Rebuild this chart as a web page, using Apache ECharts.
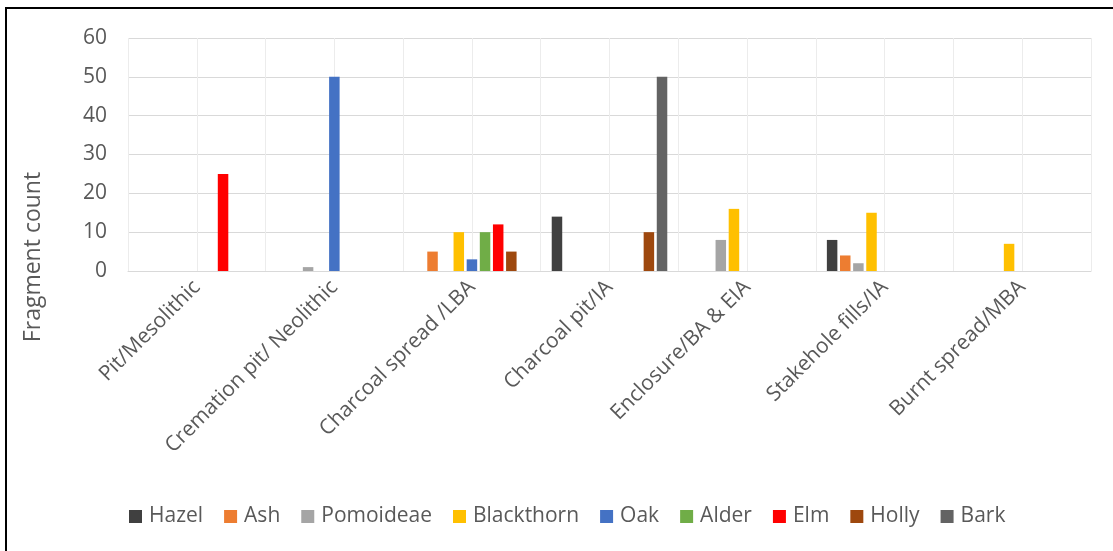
<!DOCTYPE html>
<html>
<head>
<meta charset="utf-8">
<script src="https://cdn.jsdelivr.net/npm/echarts@6/dist/echarts.min.js"></script>
<style>
html,body{margin:0;padding:0;background:#fff;overflow:hidden;}
#chart{width:1113px;height:551px;}
#frame{position:absolute;left:5px;top:7px;width:1300px;height:800px;border-left:2px solid #000;border-top:2px solid #000;pointer-events:none;}
</style>
</head>
<body>
<div id="chart"></div>
<div id="frame"></div>
<script>
var categories = ['Pit/Mesolithic','Cremation pit/ Neolithic','Charcoal spread /LBA','Charcoal pit/IA','Enclosure/BA & EIA','Stakehole fills/IA','Burnt spread/MBA'];
var seriesNames = ['Hazel','Ash','Pomoideae','Blackthorn','Oak','Alder','Elm','Holly','Bark'];
var hazel      = [0, 0, 0, 14, 0, 8, 0];
var ash        = [0, 0, 5, 0, 0, 4, 0];
var pomoideae  = [0, 1, 0, 0, 8, 2, 0];
var blackthorn = [0, 0, 10, 0, 16, 15, 7];
var oak        = [0, 50, 3, 0, 0, 0, 0];
var alder      = [0, 0, 10, 0, 0, 0, 0];
var elm        = [25, 0, 12, 0, 0, 0, 0];
var holly      = [0, 0, 5, 10, 0, 0, 0];
var bark       = [0, 0, 0, 50, 0, 0, 0];
var yTicks = [0, 10, 20, 30, 40, 50, 60];

var colors = ['#404040','#ED7D31','#A5A5A5','#FFC000','#4472C4','#70AD47','#FF0000','#9E480E','#636363'];
var values = [hazel, ash, pomoideae, blackthorn, oak, alder, elm, holly, bark];
var FONT = '"Open Sans", sans-serif';
var halfCats = [];
for (var i = 0; i < categories.length * 2; i++) halfCats.push(String(i));

var chart = echarts.init(document.getElementById('chart'));
chart.setOption({
  animation: false,
  textStyle: {fontFamily: FONT},
  grid: {left: 128, right: 22, top: 38, bottom: 280, containLabel: false},
  xAxis: [{
    type: 'category',
    data: categories,
    axisTick: {show: false},
    axisLine: {show: true, lineStyle: {color: '#d9d9d9', width: 1}},
    axisLabel: {rotate: 45, interval: 0, fontSize: 21, color: '#595959', fontFamily: FONT, margin: 13},
    splitLine: {show: false}
  }, {
    type: 'category',
    data: halfCats,
    position: 'bottom',
    axisTick: {show: false},
    axisLine: {show: false},
    axisLabel: {show: false},
    splitLine: {show: true, interval: 0, lineStyle: {color: '#ececec', width: 1}}
  }],
  yAxis: {
    type: 'value',
    min: yTicks[0],
    max: yTicks[yTicks.length - 1],
    interval: 10,
    axisLine: {show: false},
    axisTick: {show: false},
    axisLabel: {fontSize: 21, color: '#595959', fontFamily: FONT, margin: 21},
    splitLine: {lineStyle: {color: '#d9d9d9', width: 1}}
  },
  legend: {
    data: seriesNames,
    left: 124,
    top: 501,
    icon: 'rect',
    itemWidth: 13,
    itemHeight: 13,
    itemGap: 21,
    textStyle: {fontSize: 21, color: '#595959', fontFamily: FONT, padding: [0, 0, 0, 2]}
  },
  graphic: [{
    type: 'text',
    x: 33,
    y: 257,
    rotation: Math.PI / 2,
    style: {text: 'Fragment count', fontSize: 23, fill: '#595959', fontFamily: FONT, align: 'center', verticalAlign: 'middle'}
  }],
  series: seriesNames.map(function (n, k) {
    return {
      name: n,
      type: 'bar',
      xAxisIndex: 0,
      data: values[k],
      barGap: '25%',
      barCategoryGap: '16%',
      itemStyle: {color: colors[k]}
    };
  })
});
</script>
</body>
</html>
